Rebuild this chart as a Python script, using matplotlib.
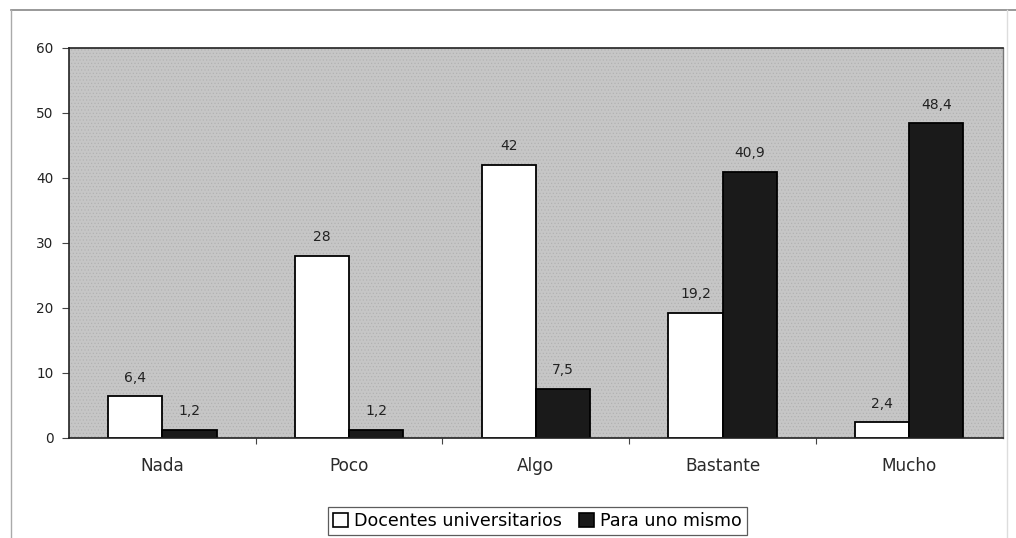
import matplotlib
matplotlib.use("Agg")
import matplotlib.pyplot as plt
import numpy as np
from matplotlib.patches import Rectangle
from matplotlib.lines import Line2D

plt.rcParams['font.family'] = ['DejaVu Sans']
plt.rcParams['hatch.linewidth'] = 0.4

categories = ["Nada", "Poco", "Algo", "Bastante", "Mucho"]
docentes = [6.4, 28, 42, 19.2, 2.4]
uno_mismo = [1.2, 1.2, 7.5, 40.9, 48.4]
series_names = ["Docentes universitarios", "Para uno mismo"]
y_ticks = [0, 10, 20, 30, 40, 50, 60]


def fmt(v):
    s = f"{v:g}"
    return s.replace(".", ",")


fig = plt.figure(figsize=(10.16, 5.38), dpi=100)
ax = fig.add_axes([0.0679, 0.186, 0.919, 0.725])

# textured grey plot area
ax.set_facecolor('#c6c6c6')
ax.add_patch(Rectangle((0, 0), 1, 1, transform=ax.transAxes, facecolor='none',
                       edgecolor='#b0b0b0', hatch='.....', linewidth=0, zorder=0))

x = np.arange(len(categories))
w = 0.29
ax.bar(x - w / 2, docentes, w, color='white', edgecolor='black', linewidth=1.3, zorder=2)
ax.bar(x + w / 2, uno_mismo, w, color='#1a1a1a', edgecolor='black', linewidth=1.3, zorder=2)

for xi, v in zip(x - w / 2, docentes):
    ax.text(xi, v + 1.8, fmt(v), ha='center', va='bottom', fontsize=10, color='#222222')
for xi, v in zip(x + w / 2, uno_mismo):
    ax.text(xi, v + 1.8, fmt(v), ha='center', va='bottom', fontsize=10, color='#222222')

ax.set_xlim(-0.5, len(categories) - 0.5)
ax.set_ylim(0, 60)
ax.set_yticks(y_ticks)
ax.set_yticklabels([str(t) for t in y_ticks], fontsize=9.8, color='#222222')
ax.set_xticks(x)
ax.set_xticklabels(categories, fontsize=12.2, color='#2a2a2a')
ax.set_xticks(np.arange(0.5, len(categories) - 0.5, 1), minor=True)
ax.tick_params(axis='x', which='major', length=0, pad=14)
ax.tick_params(axis='x', which='minor', length=4, width=0.8, color='#444444')
ax.tick_params(axis='y', length=5, width=0.8, color='#444444', pad=6)

for side in ['top', 'left', 'bottom']:
    ax.spines[side].set_color('#222222')
    ax.spines[side].set_linewidth(1.2)
ax.spines['right'].set_color('#777777')
ax.spines['right'].set_linewidth(1.0)

handles = [Rectangle((0, 0), 1, 1, facecolor='white', edgecolor='black', linewidth=1.2),
           Rectangle((0, 0), 1, 1, facecolor='#1a1a1a', edgecolor='black', linewidth=1.2)]
leg = fig.legend(handles, series_names, loc='center', bbox_to_anchor=(0.529, 0.032),
                 ncol=2, fontsize=12.6, frameon=True, fancybox=False,
                 handlelength=0.85, handleheight=0.85, handletextpad=0.35,
                 columnspacing=1.0, borderpad=0.3, borderaxespad=0)
leg.get_frame().set_edgecolor('#333333')
leg.get_frame().set_linewidth(0.9)

# outer chart border
fig.add_artist(Line2D([0.011, 1.0], [0.981, 0.981], transform=fig.transFigure,
                      color='#888888', linewidth=1.2))
fig.add_artist(Line2D([0.011, 0.011], [0.0, 0.981], transform=fig.transFigure,
                      color='#aaaaaa', linewidth=1.0))
fig.add_artist(Line2D([0.9915, 0.9915], [0.0, 0.981], transform=fig.transFigure,
                      color='#dddddd', linewidth=1.0))

fig.savefig("out.png", dpi=100)
